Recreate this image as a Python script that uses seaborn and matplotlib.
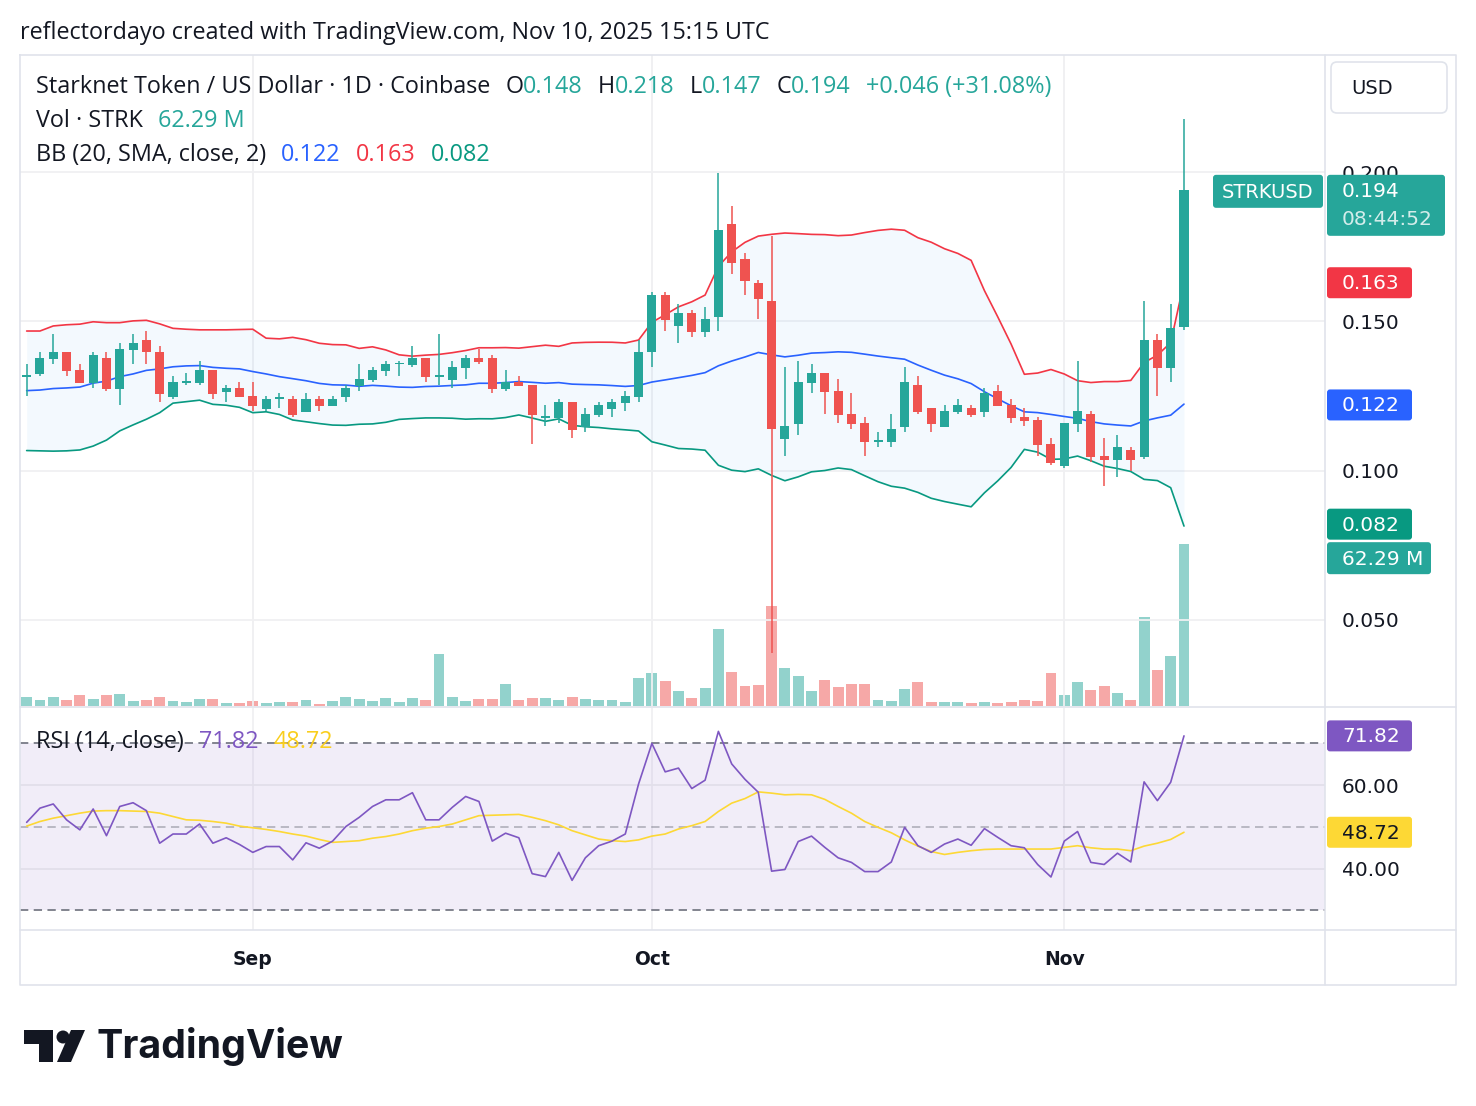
# -*- coding: utf-8 -*-
"""
STRK/USD diario - velas, bandas de Bollinger, volumen y RSI (estilo TradingView)
"""
import numpy as np
import pandas as pd
import matplotlib
matplotlib.use("Agg")
import matplotlib.pyplot as plt
import matplotlib.transforms as mtransforms
from matplotlib.patches import FancyBboxPatch, Polygon, Circle
import seaborn as sns

sns.set_theme(style="white")
plt.rcParams['font.family'] = ['DejaVu Sans']

# ======================================
# DATOS
# ======================================
start_date = "2025-08-15"
month_labels = ["Sep", "Oct", "Nov"]
month_dates = ["2025-09-01", "2025-10-01", "2025-11-01"]

opens = [.1315, .1325, .1375, .1398, .1337, .1295, .1378, .1273, .1405, .1438,
         .1398, .1248, .1295, .1295, .1337, .1265, .1277, .1250, .1207, .1240,
         .1240, .1197, .1240, .1218, .1248, .1284, .1304, .1335, .1357, .1355,
         .1378, .1315, .1304, .1345, .1378, .1378, .1274, .1298, .1287, .1177,
         .1177, .1230, .1147, .1187, .1207, .1228, .1248, .1396, .1589, .1486,
         .1528, .1466, .1516, .1827, .1710, .1629, .1569, .1107, .1157, .1295,
         .1327, .1267, .1190, .1160, .1097, .1097, .1147, .1287, .1210, .1147,
         .1197, .1210, .1197, .1267, .1220, .1180, .1170, .1089, .1016, .1157,
         .1190, .1048, .1036, .1069, .1046, .1438, .1345, .1480]
highs = [.1357, .1398, .1458, .1398, .1357, .1398, .1398, .1428, .1458, .1468,
         .1418, .1317, .1327, .1367, .1337, .1287, .1297, .1297, .1250, .1260,
         .1250, .1260, .1250, .1250, .1287, .1357, .1347, .1367, .1367, .1418,
         .1378, .1458, .1367, .1388, .1408, .1388, .1337, .1317, .1287, .1220,
         .1240, .1230, .1210, .1230, .1240, .1267, .1438, .1598, .1598, .1558,
         .1539, .1549, .1997, .1888, .1729, .1639, .1787, .1347, .1367, .1357,
         .1327, .1307, .1260, .1180, .1129, .1190, .1347, .1317, .1210, .1220,
         .1240, .1220, .1277, .1287, .1240, .1210, .1180, .1109, .1160, .1367,
         .1200, .1109, .1119, .1079, .1569, .1458, .1559, .2180]
lows = [.1250, .1317, .1357, .1317, .1295, .1278, .1268, .1221, .1357, .1358,
        .1231, .1241, .1288, .1288, .1241, .1231, .1248, .1201, .1201, .1211,
        .1181, .1197, .1201, .1218, .1231, .1268, .1297, .1317, .1317, .1347,
        .1298, .1288, .1278, .1308, .1358, .1261, .1268, .1285, .1090, .1150,
        .1160, .1110, .1130, .1181, .1181, .1201, .1231, .1348, .1469, .1429,
        .1449, .1449, .1469, .1660, .1589, .1509, .0389, .1050, .1119, .1261,
        .1191, .1160, .1140, .1050, .1080, .1080, .1130, .1191, .1130, .1147,
        .1191, .1181, .1181, .1218, .1160, .1150, .1050, .1020, .1009, .1130,
        .1030, .0949, .0979, .1000, .1040, .1251, .1298, .1470]
closes = [.1321, .1379, .1398, .1335, .1295, .1388, .1273, .1408, .1428, .1396,
          .1258, .1297, .1300, .1337, .1258, .1277, .1248, .1218, .1240, .1244,
          .1186, .1240, .1218, .1240, .1277, .1307, .1337, .1357, .1362, .1378,
          .1315, .1321, .1347, .1378, .1365, .1274, .1298, .1285, .1187, .1183,
          .1230, .1137, .1190, .1220, .1230, .1250, .1398, .1589, .1505, .1528,
          .1466, .1507, .1807, .1697, .1637, .1577, .1138, .1149, .1297, .1327,
          .1265, .1187, .1157, .1097, .1102, .1139, .1297, .1197, .1157, .1200,
          .1220, .1187, .1260, .1218, .1177, .1167, .1086, .1026, .1160, .1200,
          .1046, .1036, .1079, .1036, .1438, .1345, .1478, .1940]
volumes_m = [3.46, 2.31, 3.46, 2.31, 4.23, 2.69, 4.23, 4.62, 1.92, 2.31,
             3.46, 1.92, 1.54, 2.69, 2.69, 1.15, 1.15, 1.92, 1.15, 1.54,
             1.54, 2.31, 0.77, 1.92, 3.46, 2.69, 1.92, 3.08, 1.54, 3.08,
             2.31, 20.0, 3.46, 1.92, 2.69, 2.69, 8.46, 2.31, 3.08, 3.08,
             2.31, 3.46, 2.69, 2.31, 2.31, 1.54, 10.77, 12.69, 9.62, 5.77,
             3.08, 6.92, 29.6, 13.08, 7.69, 8.08, 38.5, 14.6, 11.5, 5.77,
             10.0, 7.31, 8.46, 8.46, 2.31, 1.92, 6.54, 9.23, 1.54, 1.54,
             1.54, 1.15, 1.54, 1.15, 1.54, 2.31, 1.92, 12.69, 4.23, 9.23,
             6.15, 7.69, 5.0, 2.31, 34.2, 13.85, 19.2, 62.29]
rsi = [51.1, 54.5, 55.5, 51.7, 49.3, 54.3, 47.9, 54.9, 55.8, 53.9,
       46.1, 48.3, 48.3, 50.7, 46.1, 47.4, 45.8, 43.9, 45.3, 45.3,
       42.1, 46.2, 44.9, 46.6, 50.1, 52.3, 54.9, 56.5, 56.5, 58.2,
       51.7, 51.7, 54.7, 57.3, 56.1, 46.6, 48.5, 47.4, 38.8, 38.1,
       43.9, 37.2, 42.6, 45.5, 46.6, 48.3, 60.3, 70.0, 63.2, 64.1,
       59.2, 61.2, 72.9, 65.1, 61.4, 58.3, 39.4, 39.8, 46.5, 47.8,
       45.1, 42.6, 41.5, 39.3, 39.3, 41.6, 49.9, 45.5, 43.9, 45.9,
       47.1, 45.6, 49.6, 47.5, 45.5, 45.0, 41.0, 38.0, 46.6, 48.9,
       41.5, 41.0, 43.7, 41.6, 60.8, 56.3, 60.7, 71.82]
rsi_ma = [50.2, 51.3, 52.1, 52.7, 53.3, 53.8, 53.9, 53.9, 53.8, 53.7,
          53.3, 52.5, 51.7, 51.6, 51.3, 50.9, 50.2, 49.8, 49.4, 48.9,
          48.3, 47.8, 47.0, 46.3, 46.5, 46.7, 47.3, 47.7, 48.3, 49.1,
          49.7, 50.1, 50.7, 51.7, 52.7, 52.8, 52.9, 53.0, 52.3, 51.5,
          50.5, 49.1, 48.1, 47.1, 46.7, 46.5, 46.9, 47.8, 48.3, 49.5,
          50.3, 51.3, 53.7, 55.7, 56.8, 58.4, 58.1, 57.7, 57.8, 57.7,
          56.6, 54.9, 53.3, 51.3, 49.9, 48.6, 46.9, 45.4, 44.1, 43.4,
          43.9, 44.3, 44.6, 44.7, 44.7, 44.7, 44.7, 44.7, 45.1, 45.5,
          45.0, 44.7, 44.7, 44.3, 45.4, 46.1, 47.0, 48.72]
# bandas de Bollinger de las primeras 19 velas (sin historial suficiente)
bb_upper_head = [.1468, .1468, .1485, .1489, .1491, .1499, .1496, .1496, .1502, .1504,
                 .1492, .1477, .1474, .1472, .1472, .1472, .1473, .1474, .1444]
bb_mid_head = [.1268, .1270, .1275, .1277, .1280, .1293, .1300, .1315, .1324, .1336,
               .1341, .1348, .1351, .1352, .1346, .1343, .1341, .1332, .1324]
bb_lower_head = [.1067, .1066, .1065, .1066, .1069, .1082, .1102, .1133, .1153, .1172,
                 .1194, .1226, .1231, .1236, .1222, .1219, .1212, .1194, .1197]
# valores de la leyenda
bb_legend = [0.122, 0.163, 0.082]
ohlc_legend = ["0.148", "0.218", "0.147", "0.194"]
change_legend = "+0.046 (+31.08%)"
vol_legend = "62.29 M"
rsi_legend = ["71.82", "48.72"]

# ======================================
# COLORES
# ======================================
UP, DOWN = "#26A69A", "#EF5350"
TXT = "#131722"
BORDER = "#E0E3EB"
GRID = "#F0F0F2"
C_UP_BB, C_MID_BB, C_LO_BB = "#F23645", "#2962FF", "#089981"
C_RSI, C_RSI_MA = "#7E57C2", "#FDD835"

# ======================================
# CÁLCULOS
# ======================================
df = pd.DataFrame({"open": opens, "high": highs, "low": lows,
                   "close": closes, "vol": volumes_m})
idx = np.arange(len(df))
up = df["close"] >= df["open"]
mid = df["close"].rolling(20).mean()
std = df["close"].rolling(20).std(ddof=0)
bb_up = mid + 2 * std
bb_lo = mid - 2 * std
n0 = len(bb_mid_head)
mid.iloc[:n0] = bb_mid_head
bb_up.iloc[:n0] = bb_upper_head
bb_lo.iloc[:n0] = bb_lower_head

start = pd.Timestamp(start_date)
month_idx = [(pd.Timestamp(d) - start).days for d in month_dates]

# ======================================
# FIGURA
# ======================================
W, H = 1476, 1106
fig = plt.figure(figsize=(W / 100, H / 100), dpi=100)
fig.patch.set_facecolor("white")


def frac(x0, y0, x1, y1):
    return [x0 / W, 1 - y1 / H, (x1 - x0) / W, (y1 - y0) / H]


XLIM = (-0.5, 97.6)
ax_vol = fig.add_axes(frac(20, 55, 1325, 706))
ax = fig.add_axes(frac(20, 55, 1325, 706))
ax_rsi = fig.add_axes(frac(20, 708, 1325, 930))

for a in (ax_vol, ax, ax_rsi):
    a.set_xlim(*XLIM)
    for s in a.spines.values():
        s.set_visible(False)
    a.set_xticks([])
    for m in month_idx:
        a.axvline(m, color=GRID, lw=1.3, zorder=0)
ax.patch.set_alpha(0)

# volumen
ax_vol.set_ylim(0, 250)
ax_vol.set_yticks([])
ax_vol.bar(idx, df["vol"], width=0.82,
           color=np.where(up, UP, DOWN), alpha=0.5, linewidth=0)

# precio
ax.set_ylim(0.0210, 0.2394)
ax.yaxis.tick_right()
ax.set_yticks([0.05, 0.10, 0.15, 0.20])
ax.set_yticklabels(["0.050", "0.100", "0.150", "0.200"])
ax.tick_params(axis="y", length=0, pad=12, labelsize=14.5, labelcolor=TXT)
for t in [0.05, 0.10, 0.15, 0.20]:
    ax.axhline(t, color=GRID, lw=1.3, zorder=0)

ax.fill_between(idx, bb_lo, bb_up, color="#2196F3", alpha=0.05, lw=0, zorder=1)
sns.lineplot(x=idx, y=bb_up.values, ax=ax, color=C_UP_BB, linewidth=1.2, zorder=2)
sns.lineplot(x=idx, y=mid.values, ax=ax, color=C_MID_BB, linewidth=1.2, zorder=2)
sns.lineplot(x=idx, y=bb_lo.values, ax=ax, color=C_LO_BB, linewidth=1.2, zorder=2)

colors = np.where(up, UP, DOWN)
ax.vlines(idx, df["low"], df["high"], colors=colors, lw=1.1, zorder=3)
body = np.maximum((df["close"] - df["open"]).abs(), 0.0005)
ax.bar(idx, body, bottom=np.minimum(df["open"], df["close"]), width=0.68,
       color=colors, linewidth=0, zorder=4)
ax.set_xlabel("")
ax.set_ylabel("")

# RSI
ax_rsi.set_ylim(25.3, 78.5)
ax_rsi.axhspan(30, 70, color=C_RSI, alpha=0.1, lw=0, zorder=0)
for t in [40, 60]:
    ax_rsi.axhline(t, color="#E2DFEA", lw=1.3, zorder=0.5)
ax_rsi.axhline(70, color="#787B86", lw=1.3, ls=(0, (4.6, 3)), zorder=1)
ax_rsi.axhline(30, color="#787B86", lw=1.3, ls=(0, (4.6, 3)), zorder=1)
ax_rsi.axhline(50, color="#787B86", alpha=0.5, lw=1.3, ls=(0, (4.6, 3)), zorder=1)
sns.lineplot(x=idx, y=rsi_ma, ax=ax_rsi, color=C_RSI_MA, linewidth=1.2, zorder=2)
sns.lineplot(x=idx, y=rsi, ax=ax_rsi, color=C_RSI, linewidth=1.2, zorder=3)
ax_rsi.yaxis.tick_right()
ax_rsi.set_yticks([40, 60])
ax_rsi.set_yticklabels(["40.00", "60.00"])
ax_rsi.tick_params(axis="y", length=0, pad=12, labelsize=14.5, labelcolor=TXT)
ax_rsi.set_xlabel("")
ax_rsi.set_ylabel("")

blend = mtransforms.blended_transform_factory(ax_rsi.transData, ax_rsi.transAxes)
for m, lab in zip(month_idx, month_labels):
    ax_rsi.text(m, -0.135, lab, transform=blend, ha="center", va="center",
                fontsize=13.5, fontweight="bold", color=TXT)

# ======================================
# CAPA SUPERIOR: marco, leyendas, etiquetas
# ======================================
ov = fig.add_axes([0, 0, 1, 1], zorder=10)
ov.set_xlim(0, W)
ov.set_ylim(H, 0)
ov.axis("off")

for xs, ys in [([20, 1456, 1456, 20, 20], [55, 55, 985, 985, 55]),
               ([1325, 1325], [55, 985]), ([20, 1456], [707, 707]),
               ([20, 1456], [930, 930])]:
    ov.plot(xs, ys, color=BORDER, lw=1.2)

renderer = fig.canvas.get_renderer()
HEAD_FONT = ["Open Sans", "DejaVu Sans"]
HEAD_FS = 16.8


def segments(y, segs, x=36, fs=HEAD_FS):
    for s, col, gap in segs:
        t = ov.text(x, y, s, color=col, fontsize=fs, va="center", ha="left",
                    family=HEAD_FONT)
        x += t.get_window_extent(renderer).width + gap


ov.text(20, 33, "reflectordayo created with TradingView.com, Nov 10, 2025 15:15 UTC",
        fontsize=HEAD_FS, color=TXT, va="center", ha="left", family=HEAD_FONT)

segments(87, [("Starknet Token / US Dollar · 1D · Coinbase", TXT, 15),
              ("O", TXT, 0), (ohlc_legend[0], UP, 15),
              ("H", TXT, 0), (ohlc_legend[1], UP, 15),
              ("L", TXT, 0), (ohlc_legend[2], UP, 15),
              ("C", TXT, 0), (ohlc_legend[3], UP, 15),
              (change_legend, UP, 0)])
segments(121, [("Vol · STRK", TXT, 15), (vol_legend, UP, 0)])
segments(155, [("BB (20, SMA, close, 2)", TXT, 15),
               (f"{bb_legend[0]:.3f}", C_MID_BB, 15),
               (f"{bb_legend[1]:.3f}", C_UP_BB, 15),
               (f"{bb_legend[2]:.3f}", C_LO_BB, 0)])
segments(742, [("RSI (14, close)", TXT, 15),
               (rsi_legend[0], C_RSI, 15), (rsi_legend[1], "#F9CE1D", 0)])

# caja USD
ov.add_patch(FancyBboxPatch((1331, 62), 116, 51, boxstyle="round,pad=0,rounding_size=6",
                            fc="white", ec=BORDER, lw=1.2))
ov.text(1351, 89, "USD", fontsize=14, color=TXT, va="center", ha="left")


def pix_y(axis, val):
    return H - axis.transData.transform((0, val))[1]


def right_label(yc, text, fc, tc="white", x1=1412, h=31):
    ov.add_patch(FancyBboxPatch((1327, yc - h / 2), x1 - 1327, h,
                                boxstyle="round,pad=0,rounding_size=3",
                                fc=fc, ec="none", zorder=5))
    ov.text(1342, yc + 1, text, color=tc, fontsize=14.5, va="center", ha="left", zorder=6)


# último precio
y_last = pix_y(ax, closes[-1])
ov.add_patch(FancyBboxPatch((1327, y_last - 15.5), 118, 61,
                            boxstyle="round,pad=0,rounding_size=3",
                            fc=UP, ec="none", zorder=5))
ov.text(1342, y_last + 1, ohlc_legend[3], color="white", fontsize=14.5, va="center", zorder=6)
ov.text(1342, y_last + 29, "08:44:52", color="white", alpha=0.8, fontsize=14.5,
        va="center", zorder=6)
ov.add_patch(FancyBboxPatch((1213, y_last - 15.5), 110, 33,
                            boxstyle="round,pad=0,rounding_size=3",
                            fc=UP, ec="none", zorder=5))
ov.text(1268, y_last + 2, "STRKUSD", color="white", fontsize=14, va="center",
        ha="center", zorder=6)

right_label(pix_y(ax, bb_legend[1]), f"{bb_legend[1]:.3f}", C_UP_BB)
right_label(pix_y(ax, bb_legend[0]), f"{bb_legend[0]:.3f}", C_MID_BB)
y_lo = pix_y(ax, bb_legend[2])
right_label(y_lo, f"{bb_legend[2]:.3f}", C_LO_BB)
right_label(y_lo + 34, vol_legend, UP, x1=1431, h=32)
right_label(pix_y(ax_rsi, rsi[-1]), rsi_legend[0], C_RSI)
right_label(pix_y(ax_rsi, rsi_ma[-1]), rsi_legend[1], C_RSI_MA, tc=TXT)

# logo TradingView
ov.add_patch(Polygon([(24, 1030), (53, 1030), (53, 1062), (39, 1062), (39, 1044), (24, 1044)],
                     closed=True, fc=TXT, ec="none"))
ov.add_patch(Circle((63, 1037), 6.5, fc=TXT, ec="none"))
ov.add_patch(Polygon([(71, 1030), (85, 1030), (71, 1062), (57, 1062)],
                     closed=True, fc=TXT, ec="none"))
ov.text(97, 1047, "TradingView", fontsize=28.3, fontweight="bold", color=TXT,
        va="center", ha="left", family=["Inter", "DejaVu Sans"])

fig.savefig("out.png", dpi=100, facecolor="white")
plt.close(fig)
